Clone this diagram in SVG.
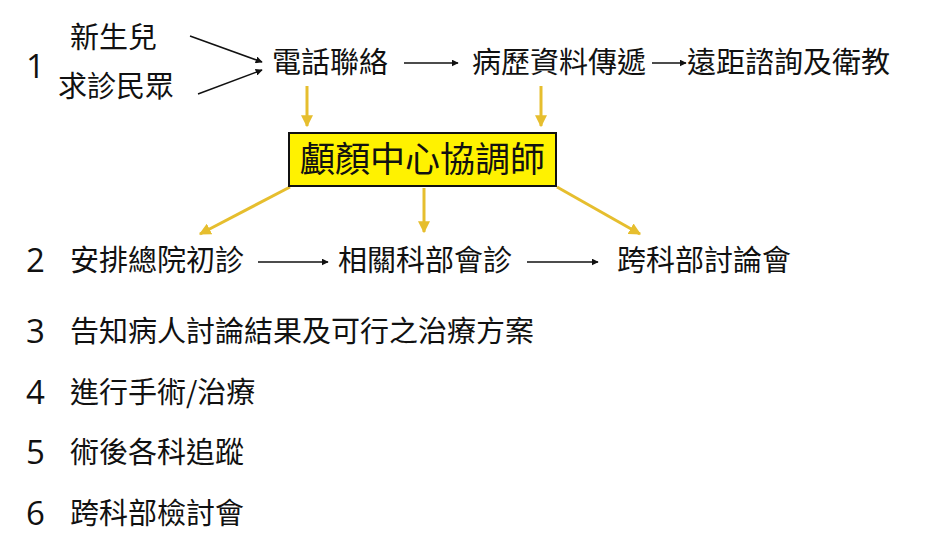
<svg xmlns="http://www.w3.org/2000/svg" width="930" height="546" viewBox="0 0 930 546">
<style>
text{font-family:"Noto Sans CJK TC","Noto Sans CJK SC",sans-serif;fill:#111;font-size:29px}
.n{font-family:"Open Sans","Noto Sans",sans-serif;font-size:33px}
.k{stroke:#111;stroke-width:1.5;fill:none}
.y{stroke:#E6BE2E;stroke-width:3;fill:none}
</style>
<defs>
<marker id="a" viewBox="0 0 10 10" refX="9" refY="5" markerWidth="7" markerHeight="7" orient="auto" markerUnits="userSpaceOnUse"><path d="M0,0L10,5L0,10z" fill="#111"/></marker>
<marker id="b" viewBox="0 0 10 10" refX="9" refY="5" markerWidth="12" markerHeight="12" orient="auto" markerUnits="userSpaceOnUse"><path d="M0,0L10,5L0,10z" fill="#E6BE2E"/></marker>
</defs>
<rect width="930" height="546" fill="#fff"/>
<g id="connectors">
<line class="k" x1="190" y1="36" x2="262" y2="62" marker-end="url(#a)"/>
<line class="k" x1="198" y1="94" x2="262" y2="70" marker-end="url(#a)"/>
<line class="k" x1="404" y1="63" x2="458" y2="63" marker-end="url(#a)"/>
<line class="k" x1="652" y1="63" x2="686" y2="63" marker-end="url(#a)"/>
<line class="k" x1="258" y1="262" x2="328" y2="262" marker-end="url(#a)"/>
<line class="k" x1="527" y1="262" x2="598" y2="262" marker-end="url(#a)"/>
<line class="y" x1="307" y1="86" x2="307" y2="126" marker-end="url(#b)"/>
<line class="y" x1="541" y1="86" x2="541" y2="126" marker-end="url(#b)"/>
<line class="y" x1="290" y1="187" x2="200" y2="234" marker-end="url(#b)"/>
<line class="y" x1="424" y1="188" x2="424" y2="232" marker-end="url(#b)"/>
<line class="y" x1="557" y1="187" x2="640" y2="234" marker-end="url(#b)"/>
</g>
<g id="n1"><text class="n" x="26" y="78">1</text></g>
<g id="newborn"><text x="70" y="48">新生兒</text></g>
<g id="public"><text x="58" y="97">求診民眾</text></g>
<g id="phone"><text x="272" y="73">電話聯絡</text></g>
<g id="records"><text x="472" y="73">病歷資料傳遞</text></g>
<g id="remote"><text x="687" y="73">遠距諮詢及衛教</text></g>
<g id="coord"><rect x="289" y="133" width="267" height="53" fill="#FFF200" stroke="#111" stroke-width="2"/><text x="422.5" y="172" text-anchor="middle" style="font-size:35px">顱顏中心協調師</text></g>
<g id="n2"><text class="n" x="26" y="272">2</text></g>
<g id="first"><text x="70" y="271">安排總院初診</text></g>
<g id="consult"><text x="338" y="271">相關科部會診</text></g>
<g id="meeting"><text x="617" y="271">跨科部討論會</text></g>
<g id="s3"><text class="n" x="26" y="343">3</text><text x="70" y="342">告知病人討論結果及可行之治療方案</text></g>
<g id="s4"><text class="n" x="26" y="404">4</text><text x="70" y="403">進行手術/治療</text></g>
<g id="s5"><text class="n" x="26" y="464">5</text><text x="70" y="463">術後各科追蹤</text></g>
<g id="s6"><text class="n" x="26" y="525">6</text><text x="70" y="524">跨科部檢討會</text></g>
</svg>
